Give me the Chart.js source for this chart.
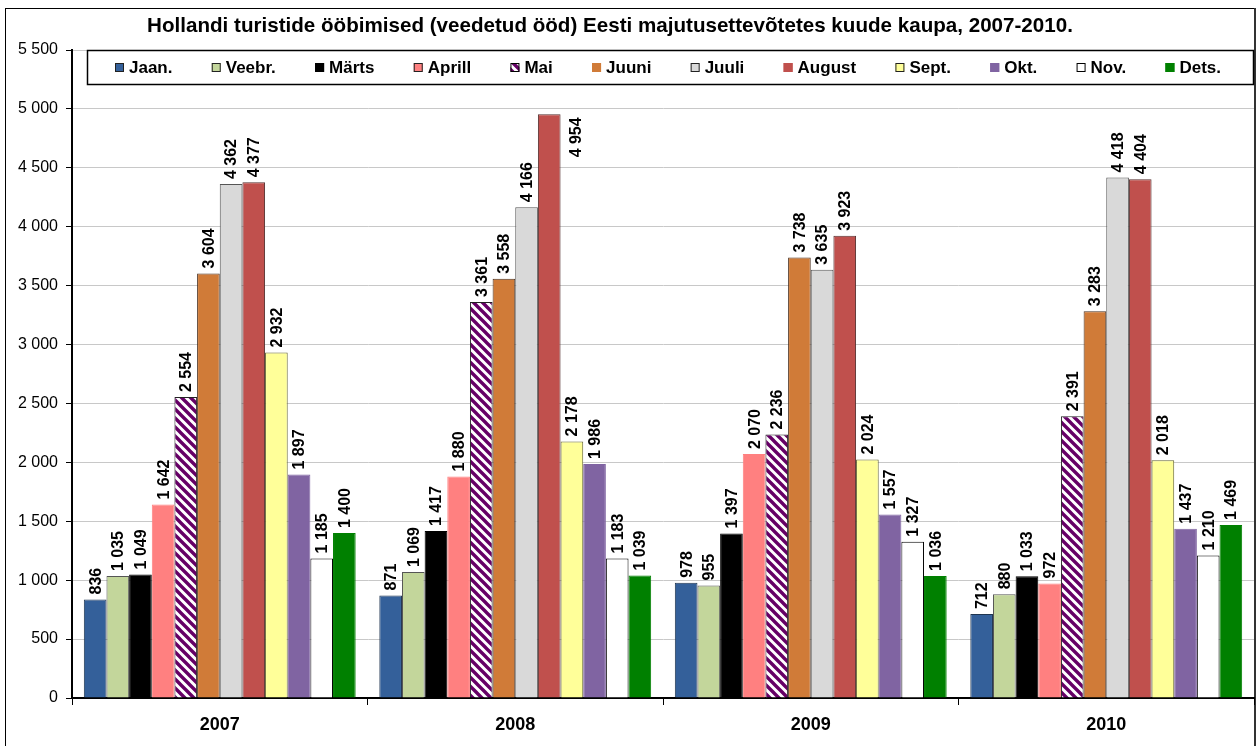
<!DOCTYPE html>
<html>
<head>
<meta charset="utf-8">
<script src="https://cdn.jsdelivr.net/npm/chart.js@4/dist/chart.umd.min.js"></script>
<style>
html,body{margin:0;padding:0;background:#fff;}
#wrap{width:1257px;height:746px;position:relative;}
</style>
</head>
<body>
<div id="wrap"><canvas id="c" width="1257" height="746"></canvas></div>
<script>
const titleText = 'Hollandi turistide ööbimised (veedetud ööd) Eesti majutusettevõtetes kuude kaupa, 2007-2010.';
const years = ['2007', '2008', '2009', '2010'];
const months = ['Jaan.', 'Veebr.', 'Märts', 'Aprill', 'Mai', 'Juuni', 'Juuli', 'August', 'Sept.', 'Okt.', 'Nov.', 'Dets.'];
const jaan   = [836, 871, 978, 712];
const veebr  = [1035, 1069, 955, 880];
const marts  = [1049, 1417, 1397, 1033];
const aprill = [1642, 1880, 2070, 972];
const mai    = [2554, 3361, 2236, 2391];
const juuni  = [3604, 3558, 3738, 3283];
const juuli  = [4362, 4166, 3635, 4418];
const august = [4377, 4954, 3923, 4404];
const sept   = [2932, 2178, 2024, 2018];
const okt    = [1897, 1986, 1557, 1437];
const nov    = [1185, 1183, 1327, 1210];
const dets   = [1400, 1039, 1036, 1469];
const yTicks = [0, 500, 1000, 1500, 2000, 2500, 3000, 3500, 4000, 4500, 5000, 5500];

const seriesValues = [jaan, veebr, marts, aprill, mai, juuni, juuli, august, sept, okt, nov, dets];

function makeHatch() {
  const s = 9;
  const p = document.createElement('canvas');
  p.width = s; p.height = s;
  const g = p.getContext('2d');
  g.fillStyle = '#ffffff';
  g.fillRect(0, 0, s, s);
  g.strokeStyle = '#660066';
  g.lineWidth = 3.4;
  g.beginPath();
  g.moveTo(-2, -2); g.lineTo(s + 2, s + 2);
  g.moveTo(-2, s - 2); g.lineTo(2, s + 2);
  g.moveTo(s - 2, -2); g.lineTo(s + 2, 2);
  g.stroke();
  return g.createPattern(p, 'repeat');
}
const hatch = makeHatch();

const fills = ['#34609a', '#c3d69b', '#000000', '#ff8080', hatch, '#d07b38', '#d9d9d9', '#c0504d', '#ffff99', '#8064a2', '#ffffff', '#008000'];
const borders = ['#1f3550', '#555555', '#000000', '#ff8080', '#222222', '#4a3020', '#555555', '#553030', '#666633', '#8064a2', '#000000', '#008000'];
const legendBorders = ['#222', '#222', '#000', '#222', '#000', '#d07b38', '#222', '#c0504d', '#222', '#8064a2', '#000', '#008000'];

function fmt(v) {
  return String(v).replace(/\B(?=(\d{3})+(?!\d))/g, ' ');
}

const datasets = months.map((m, i) => ({
  label: m,
  data: seriesValues[i],
  backgroundColor: fills[i],
  borderColor: borders[i],
  borderWidth: 1,
  categoryPercentage: 0.92,
  barPercentage: 1.0
}));

const LEGEND_H = 34;

const framePlugin = {
  id: 'frame',
  beforeDraw(chart) {
    const ctx = chart.ctx;
    ctx.save();
    ctx.fillStyle = '#ffffff';
    ctx.fillRect(0, 0, chart.width, chart.height);
    ctx.strokeStyle = '#000000';
    ctx.lineWidth = 1;
    ctx.strokeRect(5.5, 8.5, 1249, 760);
    ctx.fillStyle = '#333333';
    ctx.fillRect(1254, 8, 2, 738);
    ctx.restore();
  },
  afterDraw(chart) {
    const ctx = chart.ctx;
    const ca = chart.chartArea;
    ctx.save();
    // title
    ctx.fillStyle = '#000000';
    ctx.font = 'bold 20.6px "Liberation Sans", Arial, sans-serif';
    ctx.textAlign = 'center';
    ctx.textBaseline = 'middle';
    ctx.fillText(titleText, 610, 26);
    // legend box
    const bx = ca.left + 15, by = ca.top, bw = ca.right - ca.left - 16, bh = LEGEND_H;
    ctx.fillStyle = '#ffffff';
    ctx.fillRect(bx, by, bw, bh);
    ctx.strokeStyle = '#000000';
    ctx.lineWidth = 1.5;
    ctx.strokeRect(bx + 0.5, by + 0.5, bw, bh);
    ctx.font = 'bold 17px "Liberation Sans", Arial, sans-serif';
    ctx.textAlign = 'left';
    const sw = 9, gapT = 5;
    const ds = chart.data.datasets;
    const widths = ds.map(d => sw + gapT + ctx.measureText(d.label).width);
    const total = widths.reduce((a, b) => a + b, 0);
    const startX = bx + 28, endX = bx + bw - 32;
    const gap = (endX - startX - total) / (ds.length - 1);
    let x = startX;
    const cy = by + bh / 2 + 1;
    ds.forEach((d, i) => {
      ctx.fillStyle = d.backgroundColor;
      ctx.fillRect(x, cy - 5, sw, sw);
      ctx.strokeStyle = legendBorders[i];
      ctx.lineWidth = 1;
      ctx.strokeRect(x + 0.5, cy - 4.5, sw - 1, sw - 1);
      ctx.fillStyle = '#000000';
      ctx.fillText(d.label, x + sw + gapT, cy);
      x += widths[i] + gap;
    });
    ctx.restore();
  },
  afterDatasetsDraw(chart) {
    const ctx = chart.ctx;
    const ca = chart.chartArea;
    ctx.save();
    ctx.fillStyle = '#000000';
    ctx.font = 'bold 16px "Liberation Sans", Arial, sans-serif';
    ctx.textBaseline = 'middle';
    chart.data.datasets.forEach((d, di) => {
      const meta = chart.getDatasetMeta(di);
      meta.data.forEach((bar, i) => {
        const txt = fmt(d.data[i]);
        const w = ctx.measureText(txt).width;
        ctx.save();
        if (bar.y - 5 - w < ca.top + LEGEND_H + 4) {
          ctx.translate(bar.x + bar.width / 2 + 15, bar.y + 3);
          ctx.rotate(-Math.PI / 2);
          ctx.textAlign = 'right';
        } else {
          ctx.translate(bar.x, bar.y - 5);
          ctx.rotate(-Math.PI / 2);
          ctx.textAlign = 'left';
        }
        ctx.fillText(txt, 0, 1);
        ctx.restore();
      });
    });
    ctx.restore();
  }
};

new Chart(document.getElementById('c'), {
  type: 'bar',
  data: { labels: years, datasets: datasets },
  options: {
    responsive: false,
    animation: false,
    layout: { padding: { left: 0, right: 3, top: 50, bottom: 0 } },
    plugins: {
      legend: { display: false },
      title: { display: false },
      tooltip: { enabled: false }
    },
    scales: {
      x: {
        grid: { display: true, drawOnChartArea: false, offset: true, tickLength: 7, tickColor: '#000000', tickWidth: 1 },
        border: { display: true, color: '#000000', width: 2 },
        ticks: { color: '#000000', font: { family: '"Liberation Sans", Arial, sans-serif', size: 18, weight: 'bold' }, padding: 9 },
        afterFit(scale) { scale.height = 48; }
      },
      y: {
        min: 0,
        max: 5500,
        afterBuildTicks(scale) { scale.ticks = yTicks.map(v => ({ value: v })); },
        grid: { color: '#c8c8c8', lineWidth: 1, tickLength: 6, tickColor: '#000000' },
        border: { display: true, color: '#000000', width: 2 },
        ticks: {
          color: '#000000',
          font: { family: '"Liberation Sans", Arial, sans-serif', size: 16 },
          padding: 8,
          callback: v => fmt(v)
        },
        afterFit(scale) { scale.width = 72; }
      }
    }
  },
  plugins: [framePlugin]
});
</script>
</body>
</html>
